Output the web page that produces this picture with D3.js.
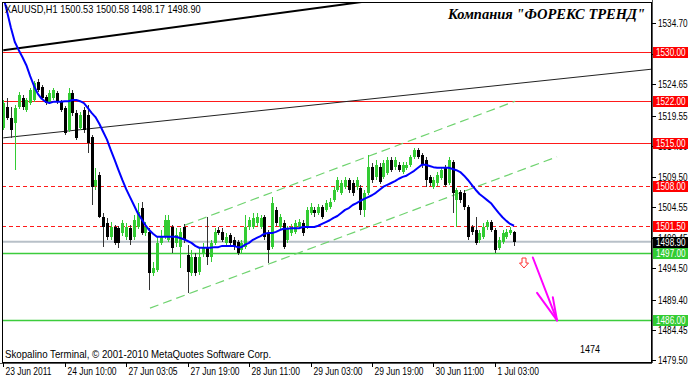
<!DOCTYPE html>
<html><head><meta charset="utf-8">
<script src="https://cdn.jsdelivr.net/npm/d3@7"></script>
<style>
html,body{margin:0;padding:0;background:#fff;}
svg{display:block;}
text{font-family:"Liberation Sans",Arial,sans-serif;}
</style></head><body>
<svg id="chart" width="688" height="379"></svg>
<script>
// ---- data (XAUUSD H1) ----
const opens=[1517.5,1521.0,1519.2,1518.3,1521.0,1522.4,1520.5,1521.6,1522.1,1525.1,1524.2,1522.6,1521.8,1522.4,1523.3,1521.8,1520.8,1517.2,1523.3,1520.0,1517.5,1520.5,1519.6,1516.0,1508.0,1509.8,1502.9,1502.0,1499.7,1501.3,1501.1,1500.3,1499.7,1501.1,1499.7,1501.3,1504.4,1500.3,1500.5,1493.8,1494.3,1498.7,1499.7,1499.2,1501.3,1498.7,1498.0,1501.3,1496.7,1493.8,1496.4,1493.9,1497.0,1498.0,1496.4,1498.7,1500.8,1500.5,1498.7,1500.0,1499.2,1498.8,1497.5,1498.0,1501.3,1501.3,1502.0,1501.3,1502.9,1500.3,1498.0,1504.1,1501.3,1502.0,1499.2,1500.3,1500.5,1501.3,1502.0,1501.3,1503.6,1504.1,1503.6,1504.6,1504.1,1504.6,1505.7,1507.4,1506.9,1507.9,1509.0,1508.5,1507.9,1507.7,1504.1,1506.9,1511.1,1509.5,1511.1,1509.5,1510.1,1512.3,1511.1,1511.5,1510.3,1511.0,1511.5,1512.8,1513.9,1513.1,1512.3,1509.5,1507.9,1508.5,1509.3,1511.0,1508.5,1511.9,1505.7,1507.0,1506.9,1504.6,1501.3,1500.8,1499.2,1499.7,1501.3,1502.1,1500.8,1497.9,1498.8,1499.7,1500.3,1500.53];
const highs=[1522.1,1522.4,1521.0,1521.3,1523.4,1522.9,1522.4,1524.1,1525.2,1525.5,1524.6,1522.9,1523.7,1524.1,1523.6,1522.1,1521.1,1524.1,1523.7,1520.5,1520.1,1521.0,1521.3,1516.4,1511.0,1510.3,1503.6,1502.8,1502.1,1501.6,1501.5,1502.4,1502.0,1501.6,1503.3,1505.2,1505.4,1502.1,1501.1,1495.6,1499.8,1500.8,1503.3,1503.3,1501.6,1501.1,1501.1,1501.8,1498.4,1497.5,1497.0,1497.9,1498.7,1502.9,1499.2,1501.1,1501.3,1501.1,1500.3,1500.3,1499.7,1499.2,1499.2,1503.3,1502.9,1503.6,1503.6,1503.3,1503.3,1500.8,1506.2,1504.6,1503.4,1502.4,1501.5,1501.8,1502.4,1502.6,1502.4,1504.6,1505.2,1504.6,1505.1,1504.9,1505.7,1506.1,1507.9,1509.5,1509.0,1509.5,1509.3,1509.0,1509.5,1508.2,1507.4,1513.1,1511.8,1512.3,1511.8,1512.3,1512.8,1512.8,1512.8,1511.9,1511.9,1511.9,1513.1,1514.2,1514.2,1513.4,1512.8,1509.8,1509.5,1510.3,1511.1,1511.5,1512.8,1512.3,1507.7,1507.4,1507.4,1504.9,1501.6,1502.9,1500.8,1502.0,1502.4,1502.4,1501.1,1499.7,1500.8,1501.0,1501.3,1500.58];
const lows=[1517.2,1518.8,1515.9,1510.6,1520.6,1520.5,1520.1,1521.3,1521.8,1523.4,1522.1,1521.3,1521.5,1522.1,1521.5,1520.1,1516.4,1516.9,1519.5,1515.6,1517.2,1516.7,1513.4,1504.9,1507.4,1502.8,1498.0,1499.2,1499.2,1498.4,1497.9,1499.8,1499.2,1498.4,1499.2,1501.0,1500.0,1499.8,1491.0,1493.3,1493.9,1498.4,1499.3,1498.8,1497.0,1498.0,1494.6,1498.7,1490.5,1493.3,1493.3,1493.4,1496.4,1495.1,1495.6,1498.4,1500.0,1498.8,1498.4,1498.0,1497.5,1496.7,1497.0,1497.7,1500.8,1501.0,1501.5,1501.0,1499.2,1495.4,1497.7,1501.5,1500.8,1497.7,1498.7,1499.8,1500.2,1501.0,1499.8,1501.0,1503.3,1502.9,1503.3,1502.6,1503.8,1504.3,1505.4,1507.0,1506.5,1507.5,1506.9,1506.4,1507.4,1503.3,1502.9,1506.5,1508.5,1509.0,1508.3,1509.2,1509.8,1510.3,1510.6,1510.3,1510.0,1510.6,1511.1,1512.4,1512.4,1511.0,1507.9,1508.0,1507.5,1508.0,1509.0,1507.9,1508.2,1503.6,1501.3,1505.2,1504.1,1499.2,1500.0,1498.4,1498.7,1499.3,1500.8,1500.5,1497.0,1497.5,1498.5,1499.3,1500.0,1498.17];
const closes=[1521.6,1519.2,1517.2,1520.8,1522.9,1521.0,1522.1,1523.7,1524.9,1523.7,1522.4,1521.6,1523.3,1523.7,1521.8,1520.5,1516.7,1523.3,1520.0,1515.9,1519.6,1517.2,1515.1,1507.9,1509.0,1502.9,1501.3,1499.7,1501.3,1498.7,1498.7,1502.0,1501.3,1499.2,1502.4,1503.8,1500.3,1501.3,1493.8,1494.6,1498.7,1499.7,1502.4,1502.4,1497.9,1500.0,1500.5,1499.2,1493.9,1496.4,1493.8,1496.4,1498.0,1496.4,1498.7,1500.5,1500.3,1499.2,1499.7,1498.7,1498.0,1497.0,1498.7,1501.3,1502.4,1502.8,1502.9,1502.8,1499.7,1497.5,1505.2,1502.0,1502.9,1498.0,1501.1,1501.3,1502.0,1502.1,1500.3,1504.1,1504.6,1503.6,1504.6,1502.9,1505.2,1505.4,1507.4,1509.0,1508.5,1509.0,1507.4,1506.9,1509.0,1504.1,1506.9,1511.1,1509.0,1511.5,1508.7,1511.8,1512.3,1510.6,1512.3,1510.6,1511.5,1511.5,1512.8,1513.9,1512.8,1511.5,1509.0,1508.5,1509.0,1509.8,1510.6,1508.2,1512.3,1506.9,1507.4,1505.7,1504.6,1499.7,1500.5,1498.7,1500.3,1501.3,1502.1,1500.8,1497.5,1499.2,1500.3,1500.5,1500.8,1498.90];
const maValues=[1539.1,1536.5,1533.9,1531.6,1530.3,1529.1,1527.8,1526.0,1524.4,1523.1,1522.3,1521.8,1521.6,1521.8,1521.8,1521.8,1521.9,1521.9,1522.1,1522.1,1521.9,1521.6,1520.8,1520.0,1519.3,1518.2,1516.9,1515.6,1513.9,1512.3,1510.6,1509.0,1507.5,1506.2,1504.9,1503.6,1502.6,1501.6,1500.8,1500.2,1499.7,1499.7,1499.7,1499.7,1499.7,1499.7,1499.5,1499.3,1499.0,1498.7,1498.2,1497.9,1497.9,1497.9,1497.9,1498.0,1498.0,1498.2,1498.2,1498.2,1498.2,1498.0,1498.0,1498.4,1498.7,1499.2,1499.5,1499.8,1500.2,1500.3,1500.3,1500.5,1500.8,1501.0,1501.0,1501.1,1501.1,1501.1,1501.3,1501.3,1501.3,1501.3,1501.5,1501.8,1502.1,1502.4,1502.8,1503.1,1503.6,1504.1,1504.4,1504.9,1505.2,1505.6,1505.9,1506.2,1506.5,1506.9,1507.4,1507.9,1508.2,1508.5,1508.8,1509.2,1509.5,1509.7,1510.1,1510.5,1511.0,1511.5,1511.5,1511.3,1511.1,1511.0,1511.0,1511.0,1511.0,1510.8,1510.6,1510.3,1509.7,1509.0,1508.2,1507.4,1506.7,1506.2,1505.7,1505.2,1504.4,1503.6,1502.9,1502.3,1501.8,1501.5];
const priceTicks=[1534.70,1529.60,1524.65,1519.55,1514.50,1509.50,1504.55,1499.45,1494.50,1489.40,1484.45,1479.50];
const timeLabels=["23 Jun 2011","24 Jun 10:00","27 Jun 03:05","27 Jun 19:00","28 Jun 11:00","29 Jun 03:00","29 Jun 19:00","30 Jun 11:00","1 Jul 03:00"];
const timeLabelBars=[0,16,32,48,64,80,96,112,128];
const redSolidLevels=[1530,1522,1515];
const redDashedLevels=[1508,1501.5];
const greenLevels=[1497,1486];
const bidPrice=1498.90;
// trendlines: [barIndex1, price1, barIndex2, price2]
const thickTrend=[0,1530.25,90,1537.87];
const thinTrend=[0,1515.9,130,1524.56];
const channelUpper=[47.3,1501.6,133.3,1521.9];
const channelLower=[38.2,1488.0,144.2,1512.8];
const forecastArrow={from:[137.9,1496.3],to:[144.2,1486.0],barbs:[[139.0,1490.5],[143.1,1489.8]]};
const downSignal=[135.6,1495.4];
const headerText="XAUUSD,H1 1500.53 1500.58 1498.17 1498.90";
const titleText="Компания \"ФОРЕКС ТРЕНД\"";
const footerText="Skopalino Terminal, © 2001-2010 MetaQuotes Software Corp.";
const noteText="1474";
const notePos=[150.2,1480.7];

// ---- drawing ----
const svg=d3.select("#chart");
const L=2,T=2,R=652,B=363;
const x=d3.scaleLinear().domain([0,169]).range([3.3,652.26]);
const y=d3.scaleLinear().domain([1479.02,1538.48]).range([B,0]);
const fmt=d3.format(".2f");

function label(parent,xx,yy,str,size,sx,fill){
  return parent.append("text").attr("transform",`translate(${xx},${yy}) scale(${sx},1)`)
    .attr("font-size",size).attr("fill",fill||"#000").text(str);
}

svg.append("rect").attr("width",688).attr("height",379).attr("fill","#fff");
svg.append("defs").append("clipPath").attr("id","plotclip")
  .append("rect").attr("x",L).attr("y",T).attr("width",R-L).attr("height",B-T);
const g=svg.append("g").attr("clip-path","url(#plotclip)");

// horizontal levels
g.selectAll(".rs").data(redSolidLevels).enter().append("line")
  .attr("x1",L).attr("x2",R).attr("y1",d=>Math.round(y(d))+0.5).attr("y2",d=>Math.round(y(d))+0.5)
  .attr("stroke","#ff1a1a").attr("stroke-width",1);
g.selectAll(".rd").data(redDashedLevels).enter().append("line")
  .attr("x1",L).attr("x2",R).attr("y1",d=>Math.round(y(d))+0.5).attr("y2",d=>Math.round(y(d))+0.5)
  .attr("stroke","#ff1a1a").attr("stroke-width",1).attr("stroke-dasharray","4,3");
g.append("line").attr("x1",L).attr("x2",R).attr("y1",y(bidPrice)).attr("y2",y(bidPrice))
  .attr("stroke","#b8c0c8").attr("stroke-width",2);
g.selectAll(".gl").data(greenLevels).enter().append("line")
  .attr("x1",L).attr("x2",R).attr("y1",d=>Math.round(y(d))+0.5).attr("y2",d=>Math.round(y(d))+0.5)
  .attr("stroke","#3ccc3c").attr("stroke-width",1.3);

// trend lines (rays extended to the right edge)
function ray(t){
  const s=(t[3]-t[1])/(t[2]-t[0]);
  const xe=169; return [[t[0],t[1]],[xe,t[1]+s*(xe-t[0])]];
}
function seg(t){return [[t[0],t[1]],[t[2],t[3]]];}
const lineGen=d3.line().x(d=>x(d[0])).y(d=>y(d[1]));
g.append("path").attr("d",lineGen(ray(thinTrend))).attr("fill","none").attr("stroke","#222").attr("stroke-width",1);
g.append("path").attr("d",lineGen(ray(thickTrend))).attr("fill","none").attr("stroke","#000").attr("stroke-width",2);
[channelUpper,channelLower].forEach(t=>{
  g.append("path").attr("d",lineGen(seg(t))).attr("fill","none").attr("stroke","#6fd36f")
   .attr("stroke-width",1.2).attr("stroke-dasharray","9,5");
});

// candles
const bars=d3.range(opens.length).map(i=>({i,o:opens[i],h:highs[i],l:lows[i],c:closes[i]}));
const cg=g.append("g").attr("shape-rendering","crispEdges");
bars.forEach(d=>{
  const bull=d.c>=d.o;
  const col=bull?"#33cc33":"#000";
  const cx=Math.round(x(d.i));
  cg.append("line").attr("x1",cx+0.5).attr("x2",cx+0.5)
    .attr("y1",Math.round(y(d.h))).attr("y2",Math.round(y(d.l)))
    .attr("stroke",bull?"#33cc33":"#333").attr("stroke-width",1);
  const yt=Math.round(y(Math.max(d.o,d.c))), yb=Math.round(y(Math.min(d.o,d.c)));
  cg.append("rect").attr("x",cx-1).attr("width",3).attr("y",yt).attr("height",Math.max(1,yb-yt)).attr("fill",col);
});

// moving average
g.append("path").datum(maValues).attr("fill","none").attr("stroke","#0000ff").attr("stroke-width",2)
  .attr("stroke-linejoin","round")
  .attr("d",d3.line().x((d,i)=>x(i)).y(d=>y(d)));

// down signal arrow (hollow)
g.append("path").attr("transform",`translate(${x(downSignal[0])},${y(downSignal[1])})`)
  .attr("d","M-2,-5 H2 V0 H4.5 L0,5 L-4.5,0 H-2 Z").attr("fill","#fff").attr("stroke","#ff3030").attr("stroke-width",1);

// forecast arrow
const mg=g.append("g").attr("stroke","#ff00ff").attr("stroke-width",2).attr("fill","none").attr("stroke-linecap","round");
mg.append("path").attr("d",lineGen([forecastArrow.from,forecastArrow.to]));
forecastArrow.barbs.forEach(b=>mg.append("path").attr("d",lineGen([b,forecastArrow.to])));

// texts in plot
label(svg,5,13,headerText,10,0.92);
svg.append("text").attr("x",645).attr("y",19).attr("text-anchor","end")
  .style("font-family","'Liberation Serif','Times New Roman',serif").attr("font-weight","bold").attr("font-style","italic")
  .attr("font-size",14.5).attr("fill","#000").text(titleText);
label(svg,5,358,footerText,10,0.97);
label(svg,x(notePos[0]),y(notePos[1]),noteText,10,0.9);

// frame
svg.append("rect").attr("x",L+0.5).attr("y",T+0.5).attr("width",R-L-1).attr("height",B-T-1)
  .attr("fill","none").attr("stroke","#000").attr("stroke-width",1).attr("shape-rendering","crispEdges");
svg.append("line").attr("x1",R+0.5).attr("x2",R+0.5).attr("y1",0).attr("y2",B).attr("stroke","#555").attr("shape-rendering","crispEdges");
svg.append("line").attr("x1",0).attr("x2",R).attr("y1",B+0.5).attr("y2",B+0.5).attr("stroke","#555").attr("shape-rendering","crispEdges");

// price axis
const ax=svg.append("g");
priceTicks.forEach(v=>{
  const yy=Math.round(y(v))+0.5;
  ax.append("line").attr("x1",R).attr("x2",R+4).attr("y1",yy).attr("y2",yy).attr("stroke","#000").attr("shape-rendering","crispEdges");
  label(ax,R+6,yy,fmt(v),10,0.82).attr("dy","0.35em");
});
function priceBox(p,bg){
  const yy=Math.round(y(p));
  ax.append("rect").attr("x",R+1).attr("y",yy-5).attr("width",40).attr("height",11).attr("fill",bg);
  label(ax,R+4,yy+0.5,fmt(p),10,0.82,"#fff").attr("dy","0.35em");
}
redSolidLevels.concat(redDashedLevels).forEach(p=>priceBox(p,"#ff0000"));
priceBox(bidPrice,"#000");
greenLevels.forEach(p=>priceBox(p,"#33cc33"));

// time axis
timeLabelBars.forEach((b,k)=>{
  const xx=Math.round(x(b))+0.5;
  ax.append("line").attr("x1",xx).attr("x2",xx).attr("y1",B).attr("y2",B+4).attr("stroke","#000").attr("shape-rendering","crispEdges");
  label(ax,xx+2,375,timeLabels[k],10,0.85);
});
</script>
</body></html>
